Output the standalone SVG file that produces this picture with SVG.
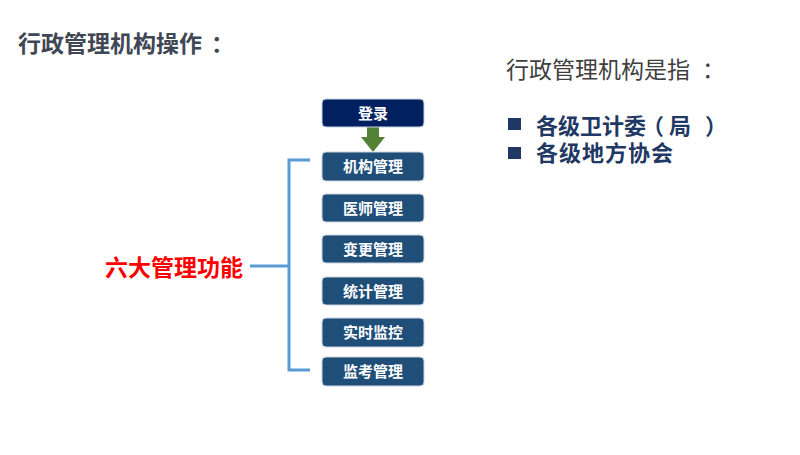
<svg xmlns="http://www.w3.org/2000/svg" width="800" height="455" viewBox="0 0 800 455">
<style>
.cjk{font-family:"Noto Sans CJK SC","Liberation Sans",sans-serif}
.box{fill:#1f4e79;stroke:#c9d3e0;stroke-width:1}
.bt{fill:#ffffff;font-size:15px;font-weight:bold;text-anchor:middle}
.br{fill:none;stroke:#5b9bd5;stroke-width:3}
.bul{fill:#1f3864}
.bx{fill:#1f3864;font-size:22px;font-weight:bold}
</style>
<rect width="800" height="455" fill="#ffffff"/>
<text class="cjk" x="18" y="52" font-size="23" font-weight="bold" fill="#3f4654">行政管理机构操作<tspan x="211">：</tspan></text>
<text class="cjk" x="506" y="78" font-size="23" fill="#404040">行政管理机构是指<tspan x="702">：</tspan></text>
<rect class="bul" x="508" y="118" width="13" height="12"/>
<text class="cjk bx" x="536 558 580 602 624 642 669 705" y="134">各级卫计委（局）</text>
<rect class="bul" x="508" y="147" width="13" height="12"/>
<text class="cjk bx" x="536" y="161" letter-spacing="1">各级地方协会</text>
<text class="cjk" x="105" y="276" font-size="23" font-weight="bold" fill="#ff0000">六大管理功能</text>
<g id="connectors">
<path class="br" d="M310,160 H289 V370 H310"/>
<path class="br" d="M250,266 H289"/>
<path d="M367,127 H379 V137 H385 L373,152 L361,137 H367 Z" fill="#548235"/>
</g>
<g id="login"><rect x="322" y="99" width="102" height="28" rx="4" fill="#002060" stroke="#c9d3e0" stroke-width="1"/><text class="cjk bt" x="373" y="118.5">登录</text></g>
<g id="n1"><rect class="box" x="322" y="152" width="102" height="29" rx="4"/><text class="cjk bt" x="373" y="172">机构管理</text></g>
<g id="n2"><rect class="box" x="322" y="194" width="102" height="28" rx="4"/><text class="cjk bt" x="373" y="213.5">医师管理</text></g>
<g id="n3"><rect class="box" x="322" y="235" width="102" height="28" rx="4"/><text class="cjk bt" x="373" y="254.5">变更管理</text></g>
<g id="n4"><rect class="box" x="322" y="277" width="102" height="28" rx="4"/><text class="cjk bt" x="373" y="296.5">统计管理</text></g>
<g id="n5"><rect class="box" x="322" y="318" width="102" height="29" rx="4"/><text class="cjk bt" x="373" y="338">实时监控</text></g>
<g id="n6"><rect class="box" x="322" y="357" width="102" height="29" rx="4"/><text class="cjk bt" x="373" y="377">监考管理</text></g>
</svg>
